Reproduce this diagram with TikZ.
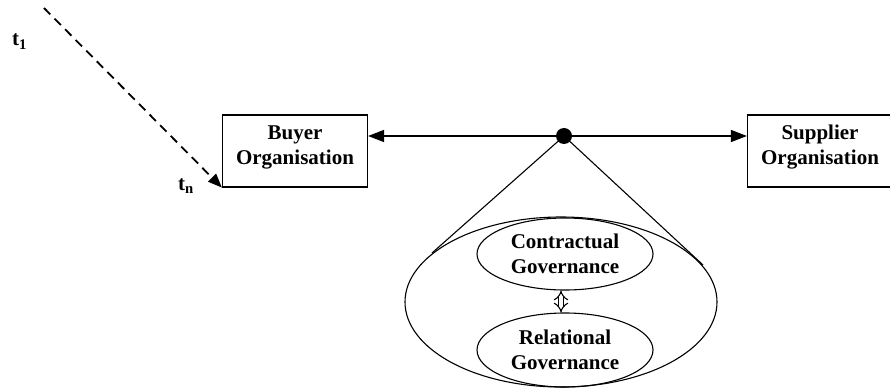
\documentclass[tikz,border=0pt]{standalone}
\usepackage{fontspec}
\setmainfont{Liberation Serif}
\usetikzlibrary{arrows.meta,shapes.geometric}
\tikzset{
 orgbox/.style={draw, line width=1.2pt, minimum width=145, minimum height=72, align=center, inner sep=0pt},
 govell/.style={draw, ellipse, line width=1.1pt, inner sep=0pt, align=center},
 lbl/.style={font=\fontsize{21}{25}\selectfont\bfseries}
}
\begin{document}
\begin{tikzpicture}[x=1pt, y=-1pt, >={Triangle[length=16pt,width=12pt]}]
 \useasboundingbox (0,0) rectangle (890,390);
 \node[orgbox, lbl] (buyer) at (295,151) {Buyer\\Organisation\\[-13pt]};
 \node[orgbox, lbl] (supplier) at (820,151) {Supplier\\Organisation\\[-13pt]};
 \node[circle, fill, inner sep=0pt, minimum size=16] (dot) at (564,136) {};
 \draw[<->, line width=1.4pt] (buyer.east |- dot) -- (supplier.west |- dot);
 \node[govell, minimum width=312, minimum height=170] (gov) at (561,302) {};
 \node[govell, lbl, minimum width=176, minimum height=72] (contract) at (565,254) {Contractual\\Governance};
 \node[govell, lbl, minimum width=176, minimum height=74] (relat) at (565,350) {Relational\\Governance};
 \coordinate (coneL) at (432,253);
 \coordinate (coneR) at (703,265);
 \draw[line width=1.1pt] (coneL) -- (dot.center) -- (coneR);
 \draw[double, double distance=4pt, line width=1.1pt, {Implies}-{Implies}] ([xshift=-4pt]contract.south) -- ([xshift=-4pt]relat.north);
 \coordinate (tstart) at (44,8);
 \draw[->, line width=1.8pt, dash pattern=on 9pt off 6pt, >={Triangle[length=14pt,width=11pt]}] (tstart) -- (buyer.south west);
 \node[lbl, anchor=base west, inner sep=0pt] (tone) at (12,46) {t$_{\mathbf{1}}$};
 \node[lbl, anchor=base west, inner sep=0pt] (tn) at (178,190) {t$_{\mathbf{n}}$};
\end{tikzpicture}
\end{document}
